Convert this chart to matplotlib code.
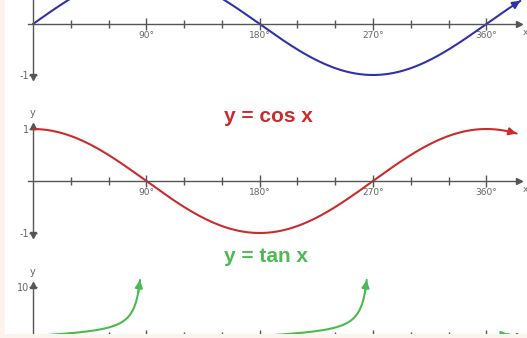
import numpy as np
import matplotlib.pyplot as plt
from matplotlib.patches import Rectangle

W, H = 527, 338
X0 = 33          # pixel column of x = 0
PX_DEG = 1.2593  # pixels per degree

# angle ranges (degrees) drawn for each curve
sin_range = (0, 387)
cos_range = (0, 384)
tan_branches = [(0, 85), (180, 265), (360, 378)]

major_ticks = [90, 180, 270, 360]
major_labels = ['90°', '180°', '270°', '360°']
minor_ticks = [30, 60, 120, 150, 210, 240, 300, 330]

AXIS_C = '#555555'
LABEL_C = '#666666'
BLUE = '#3232a8'
RED = '#cc2b2e'
GREEN = '#4cba52'
PAGE = '#fcf3ee'

fig = plt.figure(figsize=(W / 100, H / 100), dpi=100)
fig.patch.set_facecolor(PAGE)

# white card behind everything
fig.patches.append(Rectangle((5 / W, 4 / H), 1, 1, transform=fig.transFigure,
                             facecolor='white', edgecolor='none', zorder=-5))


def make_axes(top, bottom, axis_row, px_per_unit, y_lo, y_hi, yticks, ylabels,
              arrow_up, arrow_down, y_name, x_labels=True):
    ax = fig.add_axes([0, 1 - bottom / H, 1, (bottom - top) / H])
    ax.set_xlim(-X0 / PX_DEG, (W - X0) / PX_DEG)
    ax.set_ylim(-(bottom - axis_row) / px_per_unit, (axis_row - top) / px_per_unit)
    ax.patch.set_alpha(0)
    for s in ['top', 'right']:
        ax.spines[s].set_visible(False)
    for s in ['bottom', 'left']:
        ax.spines[s].set_position(('data', 0))
        ax.spines[s].set_color(AXIS_C)
        ax.spines[s].set_linewidth(1)
    ax.spines['bottom'].set_bounds(-4, 384)
    ax.spines['left'].set_bounds(y_lo, y_hi)

    ax.set_xticks(major_ticks, labels=major_labels)
    ax.set_xticks(minor_ticks, minor=True)
    ax.tick_params(axis='x', which='major', direction='inout', length=8, width=1,
                   color=AXIS_C, labelsize=6.5, labelcolor=LABEL_C, pad=1,
                   labelbottom=x_labels)
    ax.tick_params(axis='x', which='minor', direction='inout', length=6, width=1,
                   color=AXIS_C)
    ax.set_yticks(yticks, labels=ylabels)
    ax.tick_params(axis='y', direction='inout', length=6, width=1, color=AXIS_C,
                   labelsize=7, labelcolor=LABEL_C, pad=0)

    ax.plot(386, 0, '>', ms=4.5, color=AXIS_C, clip_on=False)
    if x_labels:
        ax.text(388.5, -4 / px_per_unit, 'x', fontsize=6.5, color=LABEL_C,
                va='top', ha='left')
    if arrow_up:
        ax.plot(0, y_hi, '^', ms=4.5, color=AXIS_C, clip_on=False)
    if arrow_down:
        ax.plot(0, y_lo, 'v', ms=4.5, color=AXIS_C, clip_on=False)
    if y_name:
        ax.text(0, y_hi + 8 / px_per_unit, 'y', fontsize=7, color=LABEL_C,
                ha='center', va='bottom')
    return ax


def curve(ax, deg, vals, color):
    ax.plot(deg, vals, color=color, lw=1.5, solid_capstyle='round')
    ax.annotate('', xy=(deg[-1], vals[-1]), xytext=(deg[-6], vals[-6]),
                arrowprops=dict(arrowstyle='-|>', color=color, lw=1.5,
                                mutation_scale=11, shrinkA=0, shrinkB=0))


# y = sin x (top, partly cut off)
ax_sin = make_axes(0, 95, 24, 51, -1.04, 0.6, [-1], ['-1'], False, True, False)
d = np.linspace(*sin_range, 400)
curve(ax_sin, d, np.sin(np.radians(d)), BLUE)

# y = cos x
ax_cos = make_axes(95, 245, 181, 52, -1.04, 1.06, [-1, 1], ['-1', '1'], True, True, True)
d = np.linspace(*cos_range, 400)
curve(ax_cos, d, np.cos(np.radians(d)), RED)

# y = tan x (its x axis sits under the page edge)
ax_tan = make_axes(245, 338, 336, 4.9, 0, 10.4, [10], ['10'], True, False, True,
                   x_labels=False)
for a, b in tan_branches:
    d = np.linspace(a, b, 300)
    curve(ax_tan, d, np.tan(np.radians(d)), GREEN)

fig.text(268 / W, 1 - 117 / H, 'y = cos x', color=RED, fontsize=15, fontweight='bold',
         family='Liberation Sans', ha='center', va='center')
fig.text(266 / W, 1 - 257 / H, 'y = tan x', color=GREEN, fontsize=15, fontweight='bold',
         family='Liberation Sans', ha='center', va='center')

# bottom strip of the page covers the tan axis line
fig.patches.append(Rectangle((0, 0), 1, 4 / H, transform=fig.transFigure,
                             facecolor=PAGE, edgecolor='none', zorder=10))

fig.savefig('out.png', dpi=100, facecolor=fig.get_facecolor())
